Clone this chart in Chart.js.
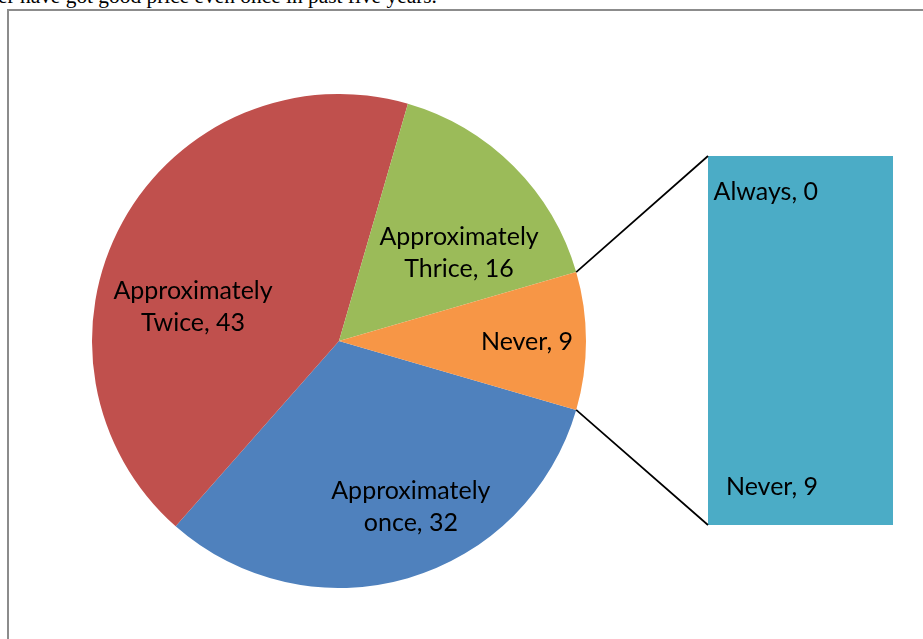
<!DOCTYPE html>
<html><head><meta charset="utf-8">
<script src="https://cdn.jsdelivr.net/npm/chart.js@4/dist/chart.umd.min.js"></script>
<style>
html,body{margin:0;padding:0;background:#fff;overflow:hidden;}
#page{position:relative;width:923px;height:639px;overflow:hidden;}
#caption{position:absolute;left:-2px;top:-16px;font:21.4px "Liberation Serif",serif;color:#000;white-space:nowrap;}
#frame{position:absolute;left:7px;top:9px;width:960px;height:680px;border:2px solid #8c8c8c;box-sizing:border-box;}
#pieBox{position:absolute;left:92px;top:94px;width:494px;height:494px;}
#barBox{position:absolute;left:708px;top:156px;width:185px;height:369px;}
#links{position:absolute;left:0;top:0;pointer-events:none;}
</style></head>
<body><div id="page">
<div id="caption">er have got good price even once in past five years.</div>
<div id="frame"></div>
<div id="pieBox"><canvas id="pie" width="494" height="494"></canvas></div>
<div id="barBox"><canvas id="bar" width="185" height="369"></canvas></div>
<canvas id="links" width="923" height="639"></canvas>
</div>
<script>
// Pie: how often a good price was obtained
const pieLabels = ['Approximately once', 'Approximately Twice', 'Approximately Thrice', 'Never'];
const pieValues = [32, 43, 16, 9];
const pieColors = ['#4F81BD', '#C0504D', '#9BBB59', '#F79646'];

// Breakdown bar for the split-out slice
const barLabels = ['Never', 'Always'];
const barValues = [9, 0];
const barColor = '#4BACC6';

const LABEL_FONT = '25px Lato, "Open Sans", sans-serif';
const LINE_H = 32;

// label anchor offsets, as fractions of the pie radius from its centre
const pieLabelAnchors = [[0.291, 0.672], [-0.591, -0.138], [0.486, -0.356], [0.761, 0.004]];

function labelLines(name, value) {
  const parts = name.split(' ');
  if (parts.length === 1) return [name + ', ' + value];
  return [parts[0], parts.slice(1).join(' ') + ', ' + value];
}

const total = pieValues.reduce((a, b) => a + b, 0);
// the split-out slice (last) is centred on the right-hand side
const rotation = 90 + 180 * pieValues[pieValues.length - 1] / total;

const pieText = {
  id: 'pieText',
  afterDatasetsDraw(chart) {
    const ctx = chart.ctx;
    const meta = chart.getDatasetMeta(0);
    ctx.save();
    ctx.font = LABEL_FONT;
    ctx.fillStyle = '#000';
    ctx.textAlign = 'center';
    ctx.textBaseline = 'middle';
    meta.data.forEach((arc, i) => {
      const r = arc.outerRadius;
      const cx = arc.x + pieLabelAnchors[i][0] * r;
      const cy = arc.y + pieLabelAnchors[i][1] * r;
      const lines = labelLines(pieLabels[i], pieValues[i]);
      const y0 = cy - (lines.length - 1) * LINE_H / 2;
      lines.forEach((t, k) => ctx.fillText(t, cx, y0 + k * LINE_H));
    });
    ctx.restore();
  }
};

const barText = {
  id: 'barText',
  afterDatasetsDraw(chart) {
    const ctx = chart.ctx;
    const never = chart.getDatasetMeta(0).data[0];
    const always = chart.getDatasetMeta(1).data[0];
    const left = never.x - never.width / 2;
    ctx.save();
    ctx.font = LABEL_FONT;
    ctx.fillStyle = '#000';
    ctx.textAlign = 'right';
    ctx.textBaseline = 'middle';
    ctx.fillText(barLabels[1] + ', ' + barValues[1], left + 110, always.y + 36);
    ctx.fillText(barLabels[0] + ', ' + barValues[0], left + 110, never.base - 38);
    ctx.restore();
  }
};

const pieChart = new Chart(document.getElementById('pie'), {
  type: 'pie',
  data: {
    labels: pieLabels,
    datasets: [{ data: pieValues, backgroundColor: pieColors, borderWidth: 0 }]
  },
  options: {
    responsive: false,
    animation: false,
    rotation: rotation,
    layout: { padding: 0 },
    plugins: { legend: { display: false }, tooltip: { enabled: false } }
  },
  plugins: [pieText]
});

const barChart = new Chart(document.getElementById('bar'), {
  type: 'bar',
  data: {
    labels: [''],
    datasets: barLabels.map((name, i) => ({
      label: name, data: [barValues[i]], backgroundColor: barColor,
      borderWidth: 0, barPercentage: 1, categoryPercentage: 1
    }))
  },
  options: {
    responsive: false,
    animation: false,
    layout: { padding: 0 },
    scales: {
      x: { display: false, stacked: true },
      y: { display: false, stacked: true, min: 0, max: barValues.reduce((a, b) => a + b, 0) }
    },
    plugins: { legend: { display: false }, tooltip: { enabled: false } }
  },
  plugins: [barText]
});

// connector lines from the split-out slice to the bar
(function drawLinks() {
  const ctx = document.getElementById('links').getContext('2d');
  const pieBox = document.getElementById('pieBox');
  const barBox = document.getElementById('barBox');
  const arc = pieChart.getDatasetMeta(0).data[pieValues.length - 1];
  const never = barChart.getDatasetMeta(0).data[0];
  const always = barChart.getDatasetMeta(1).data[0];
  const px = pieBox.offsetLeft + arc.x, py = pieBox.offsetTop + arc.y, r = arc.outerRadius;
  const bx = barBox.offsetLeft + never.x - never.width / 2;
  const topY = barBox.offsetTop + always.y;
  const botY = barBox.offsetTop + never.base;
  ctx.strokeStyle = '#000';
  ctx.lineWidth = 1.7;
  ctx.beginPath();
  // slice start edge is the upper one, its end edge the lower one
  ctx.moveTo(px + r * Math.cos(arc.startAngle), py + r * Math.sin(arc.startAngle));
  ctx.lineTo(bx, topY);
  ctx.moveTo(px + r * Math.cos(arc.endAngle), py + r * Math.sin(arc.endAngle));
  ctx.lineTo(bx, botY);
  ctx.stroke();
})();
</script>
</body></html>
